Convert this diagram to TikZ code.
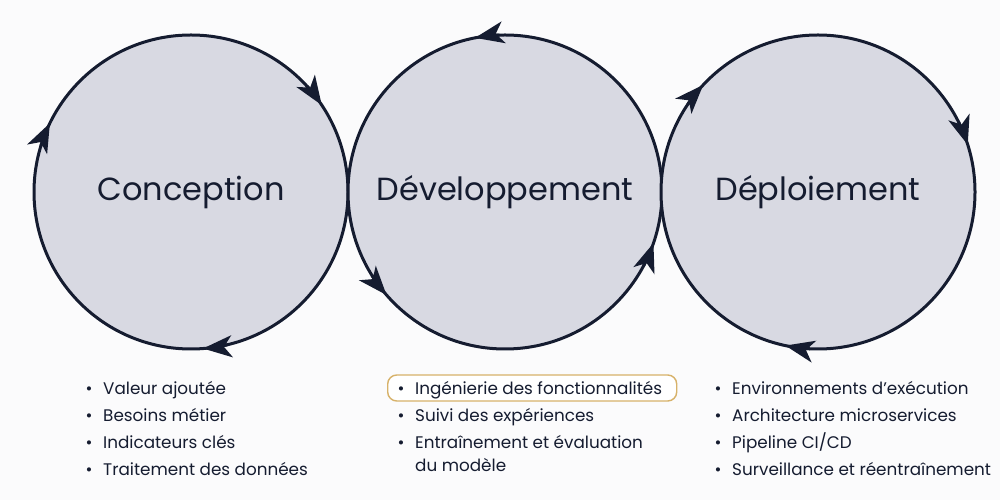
\documentclass[tikz,border=0pt]{standalone}
\usepackage{fontspec}
\setmainfont{Poppins}
\usetikzlibrary{arrows.meta}
\definecolor{ink}{HTML}{151C30}
\definecolor{disc}{HTML}{D8D9E2}
\definecolor{bg}{HTML}{FBFBFC}
\definecolor{gold}{HTML}{D7B26A}
\begin{document}
\begin{tikzpicture}[x=1pt,y=1pt,
  phase/.style={circle,draw=ink,line width=3pt,fill=disc,minimum size=314pt,inner sep=0pt,
    text=ink,font=\fontsize{32}{38}\selectfont},
  tip/.style={line width=3pt,draw=ink,-{Stealth[length=29pt,width=22pt,inset=8pt]}},
  item/.style={anchor=base west,text=ink,font=\fontsize{16.8}{20}\selectfont,inner sep=0pt},
  dot/.style={anchor=base,text=ink,font=\fontsize{16.8}{20}\selectfont,inner sep=0pt},
  hl/.style={draw=gold,line width=1.4pt,rounded corners=9pt,fill=white}]
\useasboundingbox[fill=bg] (0,0) rectangle (1000,500);
% circles
\node[phase] (c1) at (191,308) {Conception};
\node[phase] (c2) at (505,308) {Développement};
\node[phase] (c3) at (818,308) {Déploiement};
% arrowheads: circle 1 clockwise
\foreach \a in {33.6,-85.6,154}{
  \draw[tip] (c1.center) ++(\a+9:157) arc[start angle=\a+9,end angle=\a,radius=157];}
% circle 2 counterclockwise
\foreach \a in {101,221,341}{
  \draw[tip] (c2.center) ++(\a-9:157) arc[start angle=\a-9,end angle=\a,radius=157];}
% circle 3 clockwise
\foreach \a in {137,17.5,-102}{
  \draw[tip] (c3.center) ++(\a+9:157) arc[start angle=\a+9,end angle=\a,radius=157];}
% highlight box
\node[hl,minimum width=289pt,minimum height=26pt,anchor=west] (hbox) at (387,112) {};
% list 1
\node[dot] (b11) at (89,105) {•}; \node[item] (t11) at (103,105) {Valeur ajoutée};
\node[dot] (b12) at (89,78) {•};  \node[item] (t12) at (103,78) {Besoins métier};
\node[dot] (b13) at (89,51) {•};  \node[item] (t13) at (103,51) {Indicateurs clés};
\node[dot] (b14) at (89,24) {•};  \node[item] (t14) at (103,24) {Traitement des données};
% list 2
\node[dot] (b21) at (401,105) {•}; \node[item] (t21) at (415,105) {Ingénierie des fonctionnalités};
\node[dot] (b22) at (401,78) {•};  \node[item] (t22) at (415,78) {Suivi des expériences};
\node[dot] (b23) at (401,51) {•};  \node[item] (t23) at (415,51) {Entraînement et évaluation};
\node[item] (t24) at (415,28) {du modèle};
% list 3
\node[dot] (b31) at (718,105) {•}; \node[item] (t31) at (732,105) {Environnements d’exécution};
\node[dot] (b32) at (718,78) {•};  \node[item] (t32) at (732,78) {Architecture microservices};
\node[dot] (b33) at (718,51) {•};  \node[item] (t33) at (732,51) {Pipeline CI/CD};
\node[dot] (b34) at (718,24) {•};  \node[item] (t34) at (732,24) {Surveillance et réentraînement};
\end{tikzpicture}
\end{document}
